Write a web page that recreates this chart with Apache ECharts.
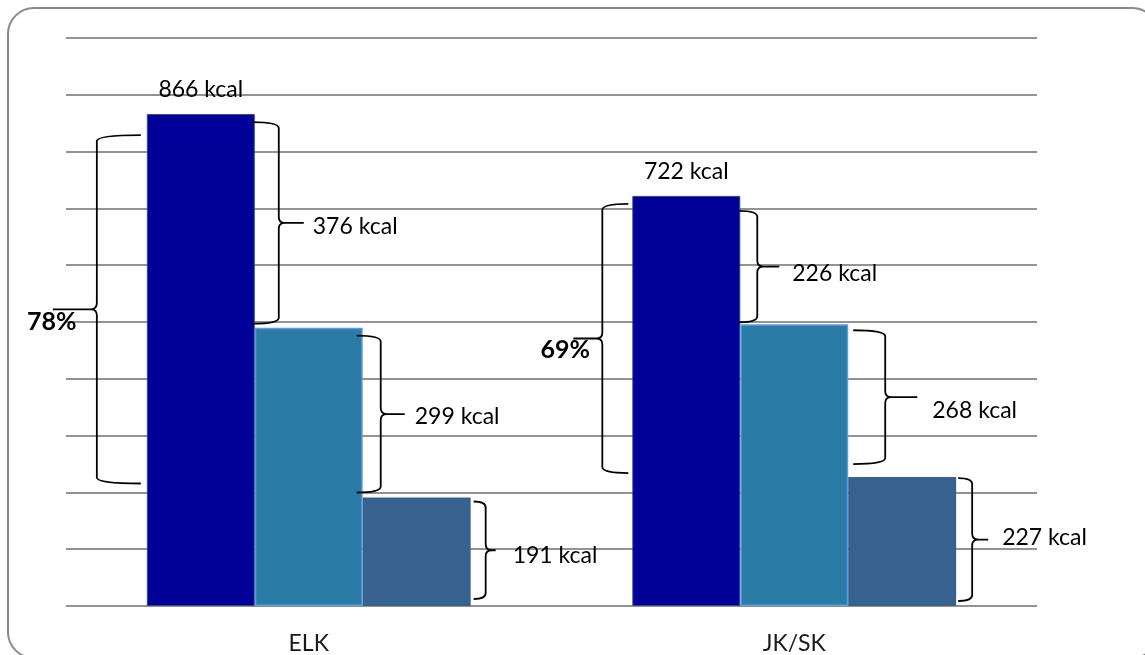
<!DOCTYPE html>
<html>
<head>
<meta charset="utf-8">
<style>
  html, body { margin: 0; padding: 0; background: #ffffff; }
  #chart { width: 1145px; height: 655px; }
</style>
<script src="https://cdn.jsdelivr.net/npm/echarts@6/dist/echarts.min.js"></script>
</head>
<body>
<div id="chart"></div>
<script>
// ---- data ----
const categories = ['ELK', 'JK/SK'];
const seriesA = [866, 722];          // dark bars
const seriesB = [490, 496];          // middle bars
const seriesC = [191, 227];          // right bars
const labelsA = ['866 kcal', '722 kcal'];
const diffTopLabels = ['376 kcal', '226 kcal'];
const diffMidLabels = ['299 kcal', '268 kcal'];
const baseLabels = ['191 kcal', '227 kcal'];
const shareLabels = ['78%', '69%'];
const yMin = 0, yMax = 1000, yInterval = 100;

// ---- brace styling (pixel tweaks, not data) ----
// edge: bar slot edge 0..3, side: +1 right / -1 left
const braceStyle = {
  'ELK-top':   { edge: 1, side: 1,  armX: -3, gap: 24, reach: 25, iT: 8,  iB: 4,  lDx: 9,  lDy: 4 },
  'ELK-mid':   { edge: 2, side: 1,  armX: -6, gap: 18, reach: 24, iT: 8,  iB: 5,  lDx: 10, lDy: 2 },
  'ELK-base':  { edge: 3, side: 1,  armX: 3,  gap: 15, reach: 10, iT: 4,  iB: 7,  lDx: 17, lDy: 5 },
  'ELK-share': { edge: 0, side: -1, armX: -6, gap: 50, reach: 44, iT: 21, iB: 14, lDx: -1, lDy: 13 },
  'JK-top':    { edge: 1, side: 1,  armX: -1, gap: 17, reach: 22, iT: 15, iB: 2,  lDx: 13, lDy: 7 },
  'JK-mid':    { edge: 2, side: 1,  armX: 5,  gap: 37, reach: 32, iT: 6,  iB: 13, lDx: 15, lDy: 13 },
  'JK-base':   { edge: 3, side: 1,  armX: 2,  gap: 16, reach: 16, iT: 1,  iB: 5,  lDx: 14, lDy: -2 },
  'JK-share':  { edge: 0, side: -1, armX: -4, gap: 30, reach: 29, iT: 8,  iB: 4,  lDx: -8, lDy: 11 }
};
const catKeys = ['ELK', 'JK'];
const catGap = 0.333;

// build brace items from the data arrays
const braceItems = [];
const braceMeta = [];
categories.forEach(function (c, i) {
  const k = catKeys[i];
  braceItems.push([i, seriesA[i], seriesB[i]]); braceMeta.push({ s: braceStyle[k + '-top'], text: diffTopLabels[i], bold: false });
  braceItems.push([i, seriesB[i], seriesC[i]]); braceMeta.push({ s: braceStyle[k + '-mid'], text: diffMidLabels[i], bold: false });
  braceItems.push([i, seriesC[i], 0]);          braceMeta.push({ s: braceStyle[k + '-base'], text: baseLabels[i], bold: false });
  braceItems.push([i, seriesA[i], seriesC[i]]); braceMeta.push({ s: braceStyle[k + '-share'], text: shareLabels[i], bold: true });
});

function renderBrace(params, api) {
  const meta = braceMeta[params.dataIndex];
  const s = meta.s;
  const c = api.value(0);
  const pTop = api.coord([c, api.value(1)]);
  const pBot = api.coord([c, api.value(2)]);
  const catW = api.size([1, 0])[0];
  const barW = catW * (1 - catGap) / 3;
  const left = pTop[0] - 1.5 * barW;
  const edgeX = left + s.edge * barW;
  const xa = edgeX + s.armX;
  const xv = edgeX + s.side * s.gap;
  const xt = xv + s.side * s.reach;
  const y1 = pTop[1] + s.iT;
  const y2 = pBot[1] - s.iB;
  const ym = (y1 + y2) / 2;
  const r = 6 * s.side;
  const rv = 6;
  const path =
    'M' + xa + ' ' + y1 +
    ' Q' + xv + ' ' + y1 + ' ' + xv + ' ' + (y1 + rv) +
    ' L' + xv + ' ' + (ym - rv) +
    ' Q' + xv + ' ' + ym + ' ' + (xv + r) + ' ' + ym +
    ' L' + xt + ' ' + ym +
    ' M' + (xv + r) + ' ' + ym +
    ' Q' + xv + ' ' + ym + ' ' + xv + ' ' + (ym + rv) +
    ' L' + xv + ' ' + (y2 - rv) +
    ' Q' + xv + ' ' + y2 + ' ' + xa + ' ' + y2;
  const children = [{
    type: 'path',
    shape: { pathData: path },
    style: { fill: null, stroke: '#000000', lineWidth: 1.8 }
  }];
  if (meta.bold) {
    children.push({
      type: 'text',
      style: {
        x: xt + s.lDx, y: ym + s.lDy, text: meta.text,
        fill: '#000000', font: 'bold 25px Lato, sans-serif',
        align: 'center', verticalAlign: 'middle'
      }
    });
  } else {
    children.push({
      type: 'text',
      style: {
        x: xt + s.lDx, y: ym + s.lDy, text: meta.text,
        fill: '#000000', font: '23px Lato, sans-serif',
        align: 'left', verticalAlign: 'middle'
      }
    });
  }
  return { type: 'group', children: children };
}

const chart = echarts.init(document.getElementById('chart'), null, { renderer: 'canvas' });
chart.setOption({
  animation: false,
  backgroundColor: '#ffffff',
  graphic: [{
    type: 'rect',
    shape: { x: 8, y: 8, width: 1150, height: 650, r: 26 },
    style: { fill: null, stroke: '#8a8a8a', lineWidth: 2 },
    z: -10
  }],
  grid: { left: 66, right: 108, top: 38, bottom: 49, containLabel: false },
  xAxis: {
    type: 'category',
    data: categories,
    axisLine: { show: false },
    axisTick: { show: false },
    axisLabel: { margin: 26, fontSize: 23, fontFamily: 'Lato, sans-serif', color: '#1a1a1a' }
  },
  yAxis: {
    type: 'value',
    min: yMin, max: yMax, interval: yInterval,
    axisLine: { show: false },
    axisTick: { show: false },
    axisLabel: { show: false },
    splitLine: { lineStyle: { color: '#939393', width: 2 } }
  },
  series: [
    {
      type: 'bar', data: seriesA, barGap: '0%', barCategoryGap: '33.3%',
      itemStyle: { color: '#000099', borderColor: '#2b4a85', borderWidth: 1 },
      label: {
        show: true, position: 'top', distance: 13,
        formatter: function (p) { return labelsA[p.dataIndex]; },
        fontSize: 23, fontFamily: 'Lato, sans-serif', color: '#000000'
      }
    },
    {
      type: 'bar', data: seriesB, barGap: '0%', barCategoryGap: '33.3%',
      itemStyle: { color: '#2a7ba6', borderColor: '#5b9be0', borderWidth: 1.5 }
    },
    {
      type: 'bar', data: seriesC, barGap: '0%', barCategoryGap: '33.3%',
      itemStyle: { color: '#37618f' }
    },
    {
      type: 'custom',
      data: braceItems,
      renderItem: renderBrace,
      clip: false,
      silent: true,
      z: 10,
      encode: { x: 0, y: [1, 2] }
    }
  ]
});
</script>
</body>
</html>
